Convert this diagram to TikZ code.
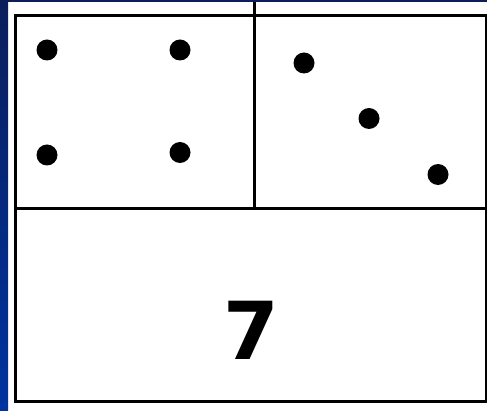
\documentclass[tikz,border=0pt]{standalone}
\usepackage{fontspec}
\newfontfamily\digitfont{DejaVu Sans}
\definecolor{navy}{HTML}{0B1E5B}
\definecolor{slideblue}{HTML}{0033A0}

\begin{document}
\begin{tikzpicture}[x=1pt,y=-1pt]
\useasboundingbox (0,0) rectangle (487,411);
\fill[white] (0,0) rectangle (487,411);
\shade[top color=navy,bottom color=slideblue] (0,0) rectangle (8,411);
\fill[navy] (0,0) rectangle (487,2);
% frame and dividers
\draw[line width=3pt] (15.5,15.5) rectangle (486,401.5);
\coordinate (midleft) at (15.5,208.5);
\coordinate (midright) at (487,208.5);
\coordinate (divtop) at (254.5,2);
\coordinate (divbot) at (254.5,208.5);
\draw[line width=3pt] (midleft) -- (midright);
\draw[line width=3pt] (divtop) -- (divbot);
% dots
\foreach \px/\py in {47/50,180/50,47/155,180/152.5,304/63,369/118.5,438/174.5}
  \fill (\px,\py) circle (10.5pt);
\node[font=\digitfont\bfseries\fontsize{80}{80}\selectfont] (seven) at (251.5,330) {7};
\end{tikzpicture}
\end{document}
